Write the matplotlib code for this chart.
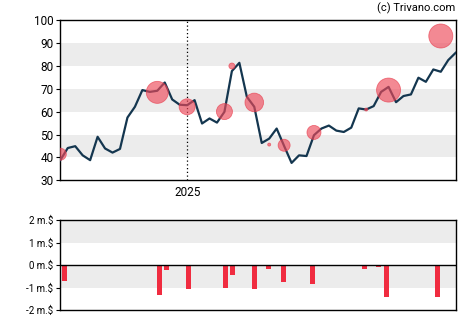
import matplotlib
matplotlib.use('Agg')
import matplotlib.pyplot as plt

plt.rcParams['font.family'] = ['Roboto', 'DejaVu Sans']

# weekly closing price, starting early September 2024
price = [38.8, 44.1, 44.9, 40.9, 38.8, 49.0, 43.9, 42.1, 43.7, 57.4,
         62.1, 69.4, 68.6, 69.1, 72.7, 65.3, 63.0, 62.8, 65.0, 54.8,
         57.0, 55.2, 59.9, 77.7, 81.3, 66.5, 62.1, 46.3, 48.2, 52.6,
         45.0, 37.6, 40.9, 40.6, 49.7, 52.6, 53.9, 51.7, 51.1, 53.0,
         61.4, 60.9, 62.4, 68.6, 70.8, 64.1, 66.8, 67.5, 74.8, 73.0,
         78.4, 77.4, 82.5, 85.7]
year_week = 17
year_label = '2025'

# insider trades: week, price, relative size
trade_week = [0, 13, 17, 22, 23, 26, 28, 30, 34, 41, 44, 51]
trade_price = [41.4, 68.4, 62.1, 60.0, 79.9, 64.0, 45.6, 45.3, 50.9, 60.9, 69.4, 93.0]
trade_size = [6, 11, 8, 8, 3, 9.3, 1.5, 6, 7, 1.5, 12, 12]

# net insider flow (million $)
flow_week = [0.56, 13.3, 14.2, 17.2, 22.1, 23.1, 26.0, 27.9, 29.9, 33.8, 40.8, 42.7, 43.7, 50.6]
flow_value = [-0.70, -1.32, -0.22, -1.05, -1.00, -0.44, -1.07, -0.18, -0.74, -0.84,
              -0.18, -0.07, -1.41, -1.41]

fig = plt.figure(figsize=(4.7, 3.25), dpi=100)
ax = fig.add_axes([0.1283, 0.4452, 0.8413, 0.4933])
ax2 = fig.add_axes([0.1283, 0.0462, 0.8413, 0.2760])

weeks = list(range(len(price)))
n = len(price) - 1

for lo in (40, 60, 80):
    ax.axhspan(lo, lo + 10, color='#ececec', lw=0, zorder=0)
ax.axvline(year_week, color='black', ls=(0, (1, 2)), lw=0.9, zorder=1)
ax.plot(weeks, price, color='#14364f', lw=1.6, zorder=3)
ax.scatter(trade_week, trade_price, s=[(r * 1.44) ** 2 for r in trade_size],
           color='#ee4a5a', alpha=0.65, edgecolors='#e83a4a', linewidths=0.6, zorder=4)
ax.set_xlim(0, n)
ax.set_ylim(30, 100)
ax.set_yticks(range(30, 101, 10))
ax.set_xticks([year_week])
ax.set_xticklabels([year_label])
ax.tick_params(axis='both', labelsize=8.5, length=3, width=0.8, pad=2)
ax.tick_params(axis='x', length=0, pad=4)
for s in ax.spines.values():
    s.set_linewidth(1.0)

ax2.axhspan(1, 2, color='#ececec', lw=0, zorder=0)
ax2.axhspan(-1, 0, color='#ececec', lw=0, zorder=0)
ax2.bar(flow_week, flow_value, width=0.65, color='#f02c40', zorder=2)
ax2.axhline(0, color='black', lw=1.0, zorder=3)
ax2.set_xlim(0, n)
ax2.set_ylim(-2, 2)
ax2.set_yticks([2, 1, 0, -1, -2])
ax2.set_yticklabels(['2 m.$', '1 m.$', '0 m.$', '-1 m.$', '-2 m.$'])
ax2.set_xticks([])
ax2.tick_params(axis='y', labelsize=7, length=3, width=0.8, pad=2)
for s in ax2.spines.values():
    s.set_linewidth(1.0)

fig.text(0.9696, 0.975, '(c) Trivano.com', ha='right', va='center', fontsize=8)

fig.savefig('out.png', dpi=100)
